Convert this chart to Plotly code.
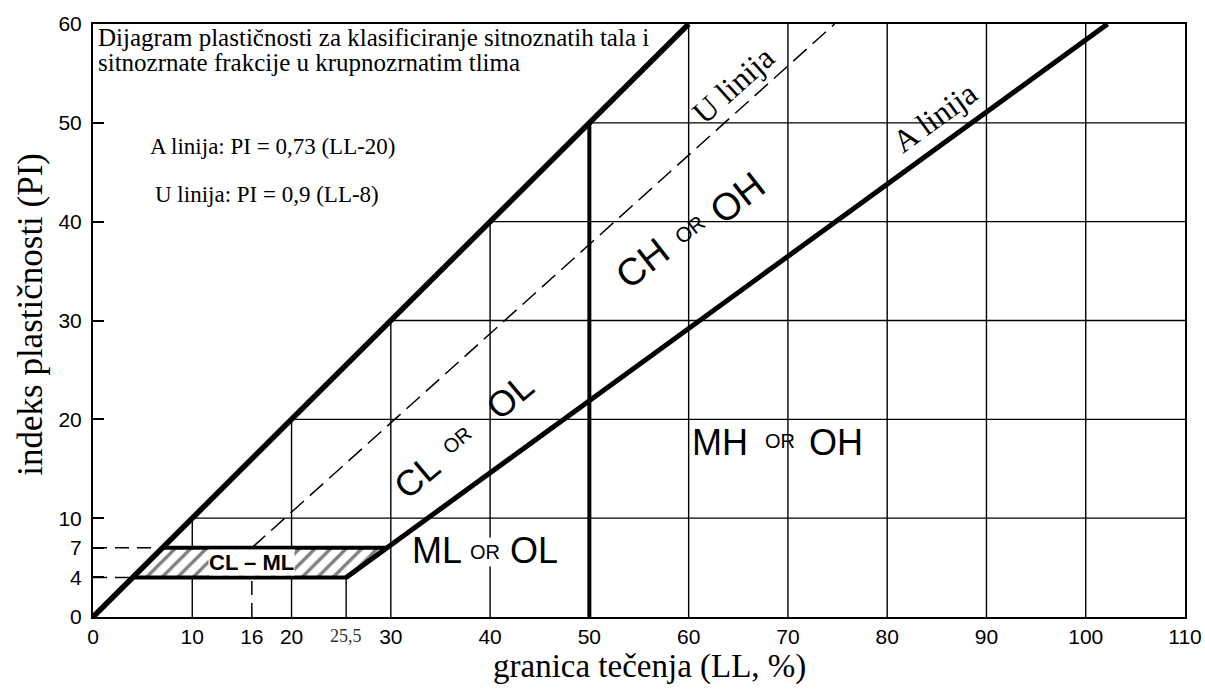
import plotly.graph_objects as go

# osi
ll_ticks = [0, 10, 16, 20, 30, 40, 50, 60, 70, 80, 90, 100, 110]
pi_ticks = [0, 4, 7, 10, 20, 30, 40, 50, 60]
grid_vals = [10, 20, 30, 40, 50, 60, 70, 80, 90, 100]

# granice podrucja
upper_ll = [0, 60]            # PI = LL
upper_pi = [0, 60]
a_ll = [25.5, 29.6, 102.2]    # A linija
a_pi = [4, 7, 60]
u_ll = [16, 74.7]             # U linija
u_pi = [7, 60]
ll50_ll = [50, 50]
ll50_pi = [0, 50]
clml_ll = [4, 25.5, 29.6, 7, 4]
clml_pi = [4, 4, 7, 7, 4]
guide_ll = [0, 7, None, 0, 4, None, 16, 16]
guide_pi = [7, 7, None, 4, 4, None, 0, 7]

# mreza (samo ispod linije PI = LL)
gx, gy = [], []
for g in grid_vals:
    if g != 50:
        gx += [g, g, None]
        gy += [0, min(g, 60), None]
    if g < 60:
        gx += [g, 110, None]
        gy += [g, g, None]
gx += [25.5, 25.5, None]
gy += [0, 4, None]

SANS = "Liberation Sans"
SERIF = "Liberation Serif"

fig = go.Figure()
fig.add_trace(go.Scatter(x=gx, y=gy, mode="lines", line=dict(color="black", width=1.4)))
fig.add_trace(go.Scatter(x=guide_ll, y=guide_pi, mode="lines",
                         line=dict(color="black", width=1.5, dash="14px,8px")))
fig.add_trace(go.Scatter(x=u_ll, y=u_pi, mode="lines",
                         line=dict(color="black", width=1.5, dash="18px,8px")))
fig.add_trace(go.Scatter(x=clml_ll, y=clml_pi, mode="lines", fill="toself", fillcolor="white",
                         fillpattern=dict(shape="/", fgcolor="black", bgcolor="white", size=11, solidity=0.3),
                         line=dict(color="black", width=4)))
fig.add_trace(go.Scatter(x=upper_ll, y=upper_pi, mode="lines", line=dict(color="black", width=5.5)))
fig.add_trace(go.Scatter(x=a_ll, y=a_pi, mode="lines", line=dict(color="black", width=5)))
fig.add_trace(go.Scatter(x=ll50_ll, y=ll50_pi, mode="lines", line=dict(color="black", width=4)))


def zone(x, y, txt, size=36, angle=0, **kw):
    return dict(x=x, y=y, text=txt, textangle=angle, font=dict(family=SANS, size=size), **kw)


ann = [
    dict(x=0.3, y=58.6, text="Dijagram plastičnosti za klasificiranje sitnoznatih tala i",
         xanchor="left", font=dict(family=SERIF, size=25)),
    dict(x=0.3, y=56.1, text="sitnozrnate frakcije u krupnozrnatim tlima",
         xanchor="left", font=dict(family=SERIF, size=25)),
    dict(x=5.5, y=47.6, text="A linija: PI = 0,73 (LL-20)", xanchor="left",
         font=dict(family=SERIF, size=23)),
    dict(x=6.0, y=42.7, text="U linija: PI = 0,9 (LL-8)", xanchor="left",
         font=dict(family=SERIF, size=23)),
    dict(x=64.5, y=53.8, text="U linija", textangle=-42, font=dict(family=SERIF, size=32)),
    dict(x=84.8, y=50.6, text="A linija", textangle=-36, font=dict(family=SERIF, size=32)),
    # CH or OH
    zone(55.4, 35.8, "CH", 38, -38), zone(60.1, 39.2, "OR", 21, -38), zone(64.9, 42.4, "OH", 38, -38),
    # CL or OL
    zone(32.6, 14.2, "CL", 36, -40), zone(36.7, 17.9, "OR", 20, -40), zone(42.0, 22.3, "OL", 36, -40),
    # MH or OH
    zone(63.2, 17.7, "MH"), zone(69.2, 17.8, "OR", 20), zone(74.8, 17.7, "OH"),
    # ML or OL
    zone(34.7, 6.7, "ML"), zone(39.5, 6.6, "OR", 20, bgcolor="white", borderpad=3), zone(44.4, 6.7, "OL"),
    dict(x=16.0, y=5.5, text="<b>CL – ML</b>", font=dict(family=SANS, size=22),
         bgcolor="white", borderpad=0),
    dict(x=25.5, y=0, text="25,5", yanchor="top", yshift=-7, font=dict(family=SERIF, size=18, color="#333")),
    dict(x=0.51, xref="paper", y=-0.084, yref="paper", text="granica tečenja (LL, %)",
         xanchor="center", yanchor="middle", font=dict(family=SERIF, size=33)),
    dict(x=-0.057, xref="paper", y=0.511, yref="paper", text="indeks plastičnosti (PI)",
         xanchor="center", yanchor="middle", textangle=-90, font=dict(family=SERIF, size=35)),
]
for a in ann:
    a.setdefault("xref", "x")
    a.setdefault("yref", "y")
    a["showarrow"] = False
    a["font"].setdefault("color", "black")
fig.update_layout(annotations=ann)

fig.update_xaxes(range=[0, 110], tickvals=ll_ticks, ticktext=[str(v) for v in ll_ticks],
                 ticks="", showgrid=False, zeroline=False, showline=True, mirror=True,
                 linecolor="black", linewidth=2, ticklabelstandoff=0, ticklabeloverflow="allow",
                 automargin=False, tickfont=dict(family=SANS, size=21, color="black"))
fig.update_yaxes(range=[0, 60], tickvals=pi_ticks, ticktext=[str(v) for v in pi_ticks],
                 ticks="inside", ticklen=11, tickwidth=2, tickcolor="black",
                 showgrid=False, zeroline=False, showline=True, mirror=True,
                 linecolor="black", linewidth=2, ticklabelstandoff=5, ticklabeloverflow="allow",
                 automargin=False, tickfont=dict(family=SANS, size=21, color="black"))
fig.update_layout(width=1205, height=689,
                  margin=dict(l=93, r=20, t=24, b=72, autoexpand=False),
                  plot_bgcolor="white", paper_bgcolor="white", showlegend=False)

# bez margine stranice, da figura stane tocno u prozor
fig.write_html("out.html", config={"displayModeBar": False},
               post_script="document.body.style.margin='0';document.body.style.overflow='hidden';")
